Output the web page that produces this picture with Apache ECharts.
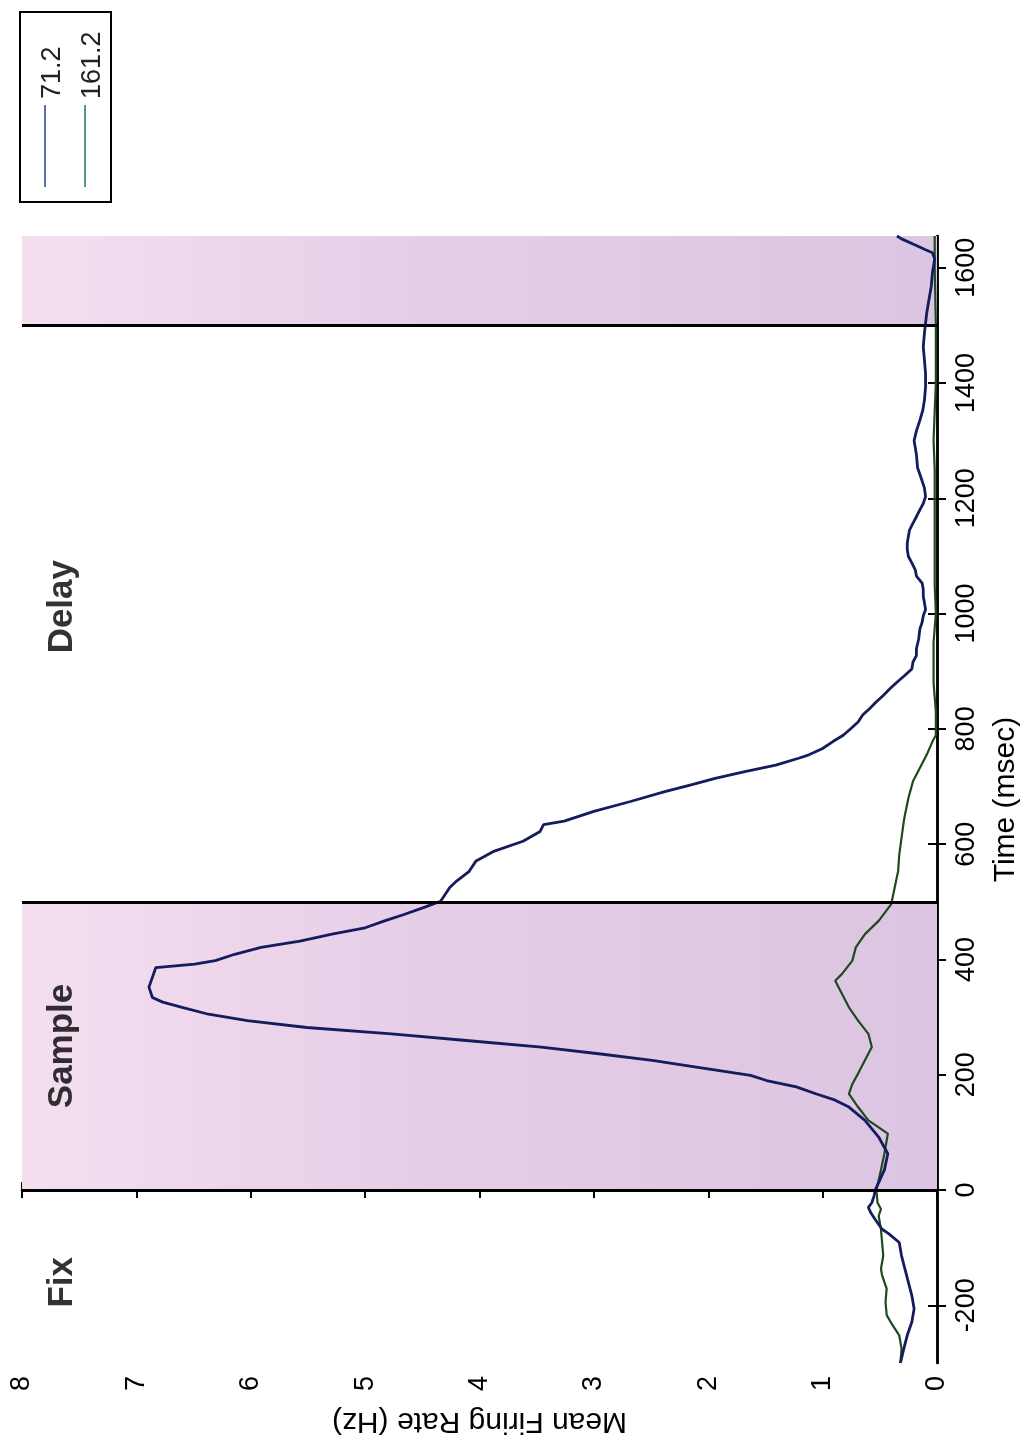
<!DOCTYPE html>
<html>
<head>
<meta charset="utf-8">
<script src="https://cdn.jsdelivr.net/npm/echarts@6/dist/echarts.min.js"></script>
<style>
html,body{margin:0;padding:0;background:#ffffff;}
#chart{width:1029px;height:1442px;}
</style>
</head>
<body>
<div id="chart"></div>
<script>
// ---- data (time in msec, mean firing rate in Hz) ----
const timeTicks = [-200, 0, 200, 400, 600, 800, 1000, 1200, 1400, 1600];
const rateTicks = [0, 1, 2, 3, 4, 5, 6, 7, 8];
const seriesNames = ['71.2', '161.2'];

const blueTimes = [-300,-275,-252,-229,-206,-183,-160,-137,-114,-91,-76,-68,-51,-39,-30,-22,-10,0,
  35,63,92,121,144,156,167,179,190,199,213,225,236,248,259,271,282,294,305,317,326,334,352,369,386,
  392,398,409,421,432,444,455,467,478,490,501,525,536,553,571,588,605,622,634,640,657,674,691,703,
  714,726,737,749,755,766,778,789,801,812,824,835,847,858,870,881,893,904,916,927,939,956,973,985,
  996,1007,1019,1030,1042,1053,1065,1076,1088,1099,1111,1122,1134,1145,1157,1168,1180,1191,1203,
  1218,1236,1253,1276,1300,1317,1335,1352,1370,1393,1416,1440,1463,1486,1504,1521,1545,1568,1591,
  1615,1626,1632,1641,1650,1655];
const blueRates = [0.32,0.29,0.26,0.22,0.20,0.22,0.25,0.28,0.31,0.33,0.42,0.48,0.54,0.58,0.60,0.57,0.55,0.54,
  0.46,0.43,0.51,0.63,0.77,0.89,1.06,1.23,1.49,1.63,2.09,2.49,2.94,3.46,4.09,4.77,5.51,6.03,6.37,6.60,6.77,6.86,6.89,6.86,6.83,
  6.49,6.31,6.14,5.91,5.57,5.29,5.00,4.83,4.66,4.49,4.34,4.26,4.20,4.09,4.03,3.87,3.62,3.47,3.44,3.26,3.00,2.68,2.38,2.15,
  1.94,1.68,1.41,1.21,1.12,1.00,0.91,0.82,0.75,0.69,0.65,0.59,0.53,0.47,0.41,0.35,0.28,0.22,0.21,0.18,0.18,0.16,0.15,0.13,
  0.12,0.10,0.11,0.12,0.12,0.13,0.18,0.19,0.22,0.25,0.26,0.26,0.25,0.24,0.21,0.18,0.15,0.12,0.10,
  0.11,0.14,0.17,0.18,0.20,0.18,0.15,0.125,0.11,0.10,0.10,0.11,0.12,0.11,0.10,0.09,0.07,0.05,0.04,
  0.02,0.04,0.11,0.21,0.31,0.35];

const greenTimes = [-300,-275,-252,-234,-217,-194,-171,-148,-137,-114,-91,-68,-45,-33,-22,0,
  35,63,98,121,144,167,184,202,225,248,271,294,317,340,363,375,398,421,444,467,496,525,553,582,
  611,640,651,680,709,732,755,778,789,830,880,950,1000,1050,1150,1250,1300,1350,1400,1500,1600,1655];
const greenRates = [0.32,0.31,0.33,0.39,0.44,0.45,0.44,0.48,0.49,0.47,0.48,0.49,0.51,0.49,0.52,0.53,
  0.49,0.46,0.43,0.60,0.69,0.77,0.74,0.69,0.63,0.57,0.60,0.69,0.77,0.83,0.89,0.83,0.74,0.71,0.63,0.51,0.40,0.37,0.34,0.33,
  0.31,0.29,0.28,0.25,0.21,0.15,0.09,0.04,0.01,0.01,0.03,0.03,0.01,0.02,0.02,0.02,0.03,0.02,0.01,0.01,0.02,0.02];

const regionNames = ['Fix', 'Sample', 'Delay'];
const regionCenters = [-160, 250, 1012];
const epochBounds = [0, 500, 1500];
const shadedStarts = [0, 1500];
const shadedEnds = [500, 1655];

// ---- chart ----
const timeMin = -300, timeMax = 1655;
const labelRate = 7.65;
const blueColor = '#141c5e';
const greenColor = '#1d4a1c';
const font = 'Liberation Sans, Arial, sans-serif';

const bluePairs = blueTimes.map((t, i) => [blueRates[i], t]);
const greenPairs = greenTimes.map((t, i) => [greenRates[i], t]);
const regionPoints = regionCenters.map((t, i) => [labelRate, t, regionNames[i]]);

const shadeColor = {
  type: 'linear', x: 0, y: 0, x2: 1, y2: 0,
  colorStops: [
    { offset: 0, color: '#f4dff0' },
    { offset: 0.45, color: '#e6cde7' },
    { offset: 1, color: '#dcc5e2' }
  ]
};

const axisLineStyle = { color: '#000', width: 2.5 };
const tickStyle = { color: '#000', width: 2 };

const chart = echarts.init(document.getElementById('chart'), null, { renderer: 'canvas' });
chart.setOption({
  backgroundColor: '#ffffff',
  animation: false,
  textStyle: { fontFamily: font },
  grid: { left: 22, right: 87, top: 236, bottom: 79, containLabel: false },
  xAxis: [
    {
      type: 'value', position: 'bottom', inverse: true,
      min: rateTicks[0], max: rateTicks[rateTicks.length - 1], interval: 1,
      axisLine: { show: true, lineStyle: axisLineStyle },
      axisTick: { show: true, inside: true, length: 8, lineStyle: tickStyle },
      axisLabel: { rotate: 90, fontSize: 27, color: '#000', margin: 13, fontFamily: font,
        formatter: v => String(v) },
      splitLine: { show: false },
      name: 'Mean Firing Rate (Hz)', nameLocation: 'middle', nameRotate: 180, nameGap: 43,
      nameTextStyle: { fontSize: 30, color: '#000', fontFamily: font }
    },
    {
      type: 'value', position: 'top', inverse: true,
      min: rateTicks[0], max: rateTicks[rateTicks.length - 1], interval: 1,
      axisLine: { show: true, lineStyle: axisLineStyle },
      axisTick: { show: true, inside: true, length: 8, lineStyle: tickStyle },
      axisLabel: { show: false },
      splitLine: { show: false }
    }
  ],
  yAxis: [
    {
      type: 'value', position: 'right', min: timeMin, max: timeMax,
      axisLine: { show: true, lineStyle: axisLineStyle },
      axisTick: { show: true, inside: true, length: 9, lineStyle: tickStyle, customValues: timeTicks },
      axisLabel: { rotate: 90, fontSize: 27, color: '#000', margin: 16, fontFamily: font,
        customValues: timeTicks, formatter: v => String(v) },
      splitLine: { show: false },
      name: 'Time (msec)', nameLocation: 'middle', nameRotate: 90, nameGap: 54,
      nameTextStyle: { fontSize: 30, color: '#000', fontFamily: font }
    },
    {
      type: 'value', position: 'left', min: timeMin, max: timeMax,
      axisLine: { show: true, lineStyle: axisLineStyle },
      axisTick: { show: true, inside: true, length: 9, lineStyle: tickStyle, customValues: timeTicks },
      axisLabel: { show: false, customValues: timeTicks },
      splitLine: { show: false }
    }
  ],
  series: [
    {
      name: seriesNames[0], type: 'line', xAxisIndex: 0, yAxisIndex: 0,
      data: bluePairs, showSymbol: false, symbol: 'none', z: 3,
      lineStyle: { color: blueColor, width: 2.8 },
      markArea: {
        silent: true,
        itemStyle: { color: shadeColor },
        data: shadedStarts.map((s, i) => [{ yAxis: s }, { yAxis: shadedEnds[i] }])
      },
      markLine: {
        silent: true, symbol: 'none', label: { show: false },
        lineStyle: { color: '#000', width: 3, type: 'solid' },
        data: epochBounds.map(t => ({ yAxis: t }))
      }
    },
    {
      name: seriesNames[1], type: 'line', xAxisIndex: 0, yAxisIndex: 0,
      data: greenPairs, showSymbol: false, symbol: 'none', z: 2,
      lineStyle: { color: greenColor, width: 2.2 }
    },
    {
      name: 'epochs', type: 'scatter', xAxisIndex: 0, yAxisIndex: 0,
      data: regionPoints, symbolSize: 1, silent: true,
      itemStyle: { color: 'rgba(0,0,0,0)' },
      label: {
        show: true, position: 'inside', rotate: 90,
        formatter: p => p.data[2],
        fontSize: 35, fontWeight: 'bold', color: '#000', fontFamily: font
      }
    }
  ],
  graphic: [
    { type: 'rect', shape: { x: 20, y: 12, width: 91, height: 190 },
      style: { fill: '#fff', stroke: '#000', lineWidth: 2 } },
    { type: 'line', shape: { x1: 45, y1: 105, x2: 45, y2: 187 },
      style: { stroke: '#23409a', lineWidth: 1.5 } },
    { type: 'text', x: 53, y: 99, rotation: Math.PI / 2,
      style: { text: seriesNames[0], fontSize: 27, fontFamily: font, fill: '#222', align: 'left', verticalAlign: 'middle' } },
    { type: 'line', shape: { x1: 85, y1: 105, x2: 85, y2: 187 },
      style: { stroke: '#1a7a55', lineWidth: 1.5 } },
    { type: 'text', x: 93, y: 99, rotation: Math.PI / 2,
      style: { text: seriesNames[1], fontSize: 27, fontFamily: font, fill: '#222', align: 'left', verticalAlign: 'middle' } }
  ]
});
</script>
</body>
</html>
